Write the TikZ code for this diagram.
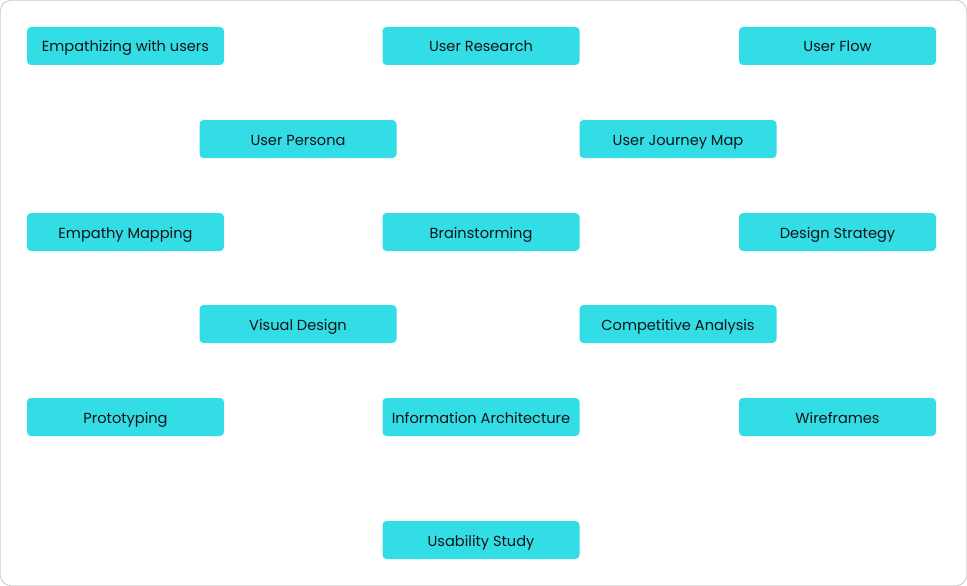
\documentclass[tikz,border=0pt]{standalone}
\usepackage{fontspec}
\setmainfont{Poppins}
\usetikzlibrary{positioning}
\definecolor{topiccyan}{RGB}{51,221,230}
\definecolor{topicink}{RGB}{20,20,20}
\definecolor{framegray}{RGB}{160,160,160}
\begin{document}
\begin{tikzpicture}[x=1pt,y=-1pt,
  topic/.style={fill=topiccyan,rounded corners=4pt,minimum width=197pt,minimum height=38pt,
    inner sep=0pt,text height=12pt,text depth=0pt,text=topicink,font=\fontsize{14.6}{16}\selectfont}]
% Rahmen um das ganze Bild.
\useasboundingbox (0,0) rectangle (967,586);
\draw[framegray,rounded corners=10pt] (0.5,0.5) rectangle (966.5,585.5);
% Themenkästen in Reihen.
\node[topic] (empathizing) at (125.5,46) {Empathizing with users};
\node[topic] (research) at (481,46) {User Research};
\node[topic] (flow) at (837.5,46) {User Flow};
\node[topic] (persona) at (298,139) {User Persona};
\node[topic] (journey) at (678,139) {User Journey Map};
\node[topic] (empathyMap) at (125.5,232) {Empathy Mapping};
\node[topic] (brainstorm) at (481,232) {Brainstorming};
\node[topic] (strategy) at (837.5,232) {Design Strategy};
\node[topic] (visual) at (298,324) {Visual Design};
\node[topic] (competitive) at (678,324) {Competitive Analysis};
\node[topic] (prototyping) at (125.5,417) {Prototyping};
\node[topic] (infoArch) at (481,417) {Information Architecture};
\node[topic] (wireframes) at (837.5,417) {Wireframes};
\node[topic] (usability) at (481,540) {Usability Study};
\end{tikzpicture}
\end{document}
